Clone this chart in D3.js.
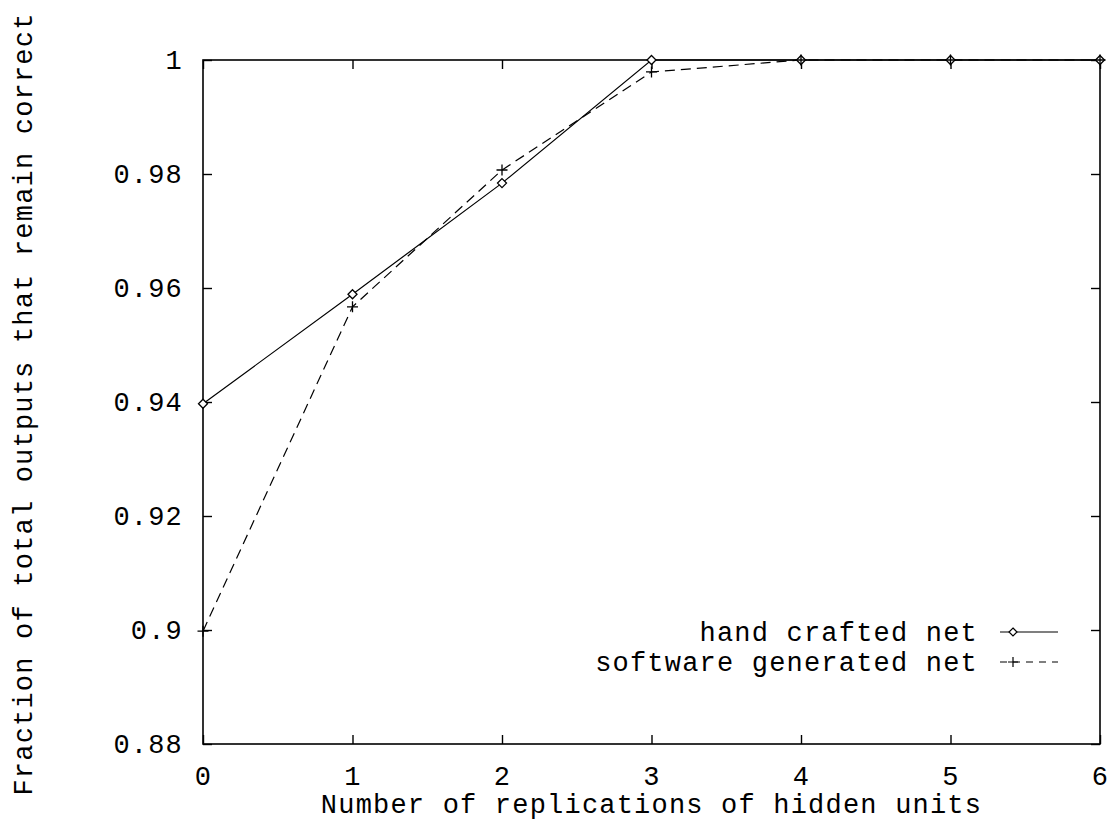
<!DOCTYPE html>
<html>
<head>
<meta charset="utf-8">
<script src="https://cdn.jsdelivr.net/npm/d3@7"></script>
<style>
  html, body { margin: 0; padding: 0; background: #fff; }
  svg { display: block; }
  text { font-family: "Liberation Mono", "DejaVu Sans Mono", monospace; fill: #000; }
</style>
</head>
<body>
<svg id="chart" width="1114" height="825"></svg>
<script>
// Replications of hidden units (x axis)
const replications = [0, 1, 2, 3, 4, 5, 6];
// Fraction of outputs that remain correct
const handCrafted = [0.9397, 0.9589, 0.9784, 1.0, 1.0, 1.0, 1.0];
const softwareGenerated = [0.8998, 0.9567, 0.9807, 0.9979, 1.0, 1.0, 1.0];
// Axis ticks
const xTicks = [0, 1, 2, 3, 4, 5, 6];
const yTicks = [0.88, 0.9, 0.92, 0.94, 0.96, 0.98, 1];
const seriesNames = ["hand crafted net", "software generated net"];

const svg = d3.select("#chart");
const m = { left: 203, right: 1100, top: 60, bottom: 744 };
const fontSize = 27;
const spacing = "1.2px";

const x = d3.scaleLinear().domain([0, 6]).range([m.left, m.right]);
const y = d3.scaleLinear().domain([0.88, 1]).range([m.bottom, m.top]);

const tickLen = 9;
const yFmt = d => d === 1 ? "1" : d3.format(".2f")(d).replace(/0$/, "");

// Frame
svg.append("rect")
  .attr("x", m.left).attr("y", m.top)
  .attr("width", m.right - m.left).attr("height", m.bottom - m.top)
  .attr("fill", "none").attr("stroke", "#000").attr("stroke-width", 1.6);

// Axes with inward ticks, mirrored on the opposite sides
const axisL = d3.axisLeft(y).tickValues(yTicks).tickSize(-tickLen).tickPadding(20).tickFormat(yFmt);
const axisR = d3.axisRight(y).tickValues(yTicks).tickSize(-tickLen).tickFormat("");
const axisB = d3.axisBottom(x).tickValues(xTicks).tickSize(-tickLen).tickPadding(22).tickFormat(d3.format("d"));
const axisT = d3.axisTop(x).tickValues(xTicks).tickSize(-tickLen).tickFormat("");

function styleAxis(g) {
  g.select(".domain").remove();
  g.selectAll(".tick line").attr("stroke", "#000").attr("stroke-width", 1.4);
  g.selectAll(".tick text")
    .style("font-size", fontSize + "px")
    .style("font-family", "Liberation Mono")
    .style("letter-spacing", spacing);
}
svg.append("g").attr("transform", `translate(${m.left},0)`).call(axisL).call(styleAxis);
svg.append("g").attr("transform", `translate(${m.right},0)`).call(axisR).call(styleAxis);
svg.append("g").attr("transform", `translate(0,${m.bottom})`).call(axisB).call(styleAxis);
svg.append("g").attr("transform", `translate(0,${m.top})`).call(axisT).call(styleAxis);

// Axis titles
svg.append("text")
  .attr("x", (m.left + m.right) / 2).attr("y", 813)
  .attr("text-anchor", "middle")
  .style("font-size", fontSize + "px")
  .style("letter-spacing", spacing)
  .text("Number of replications of hidden units");

svg.append("text")
  .attr("transform", `translate(32,${(m.top + m.bottom) / 2 + 2}) rotate(-90)`)
  .attr("text-anchor", "middle")
  .style("font-size", fontSize + "px")
  .style("letter-spacing", spacing)
  .text("Fraction of total outputs that remain correct");

const line = d3.line().x(d => x(d[0])).y(d => y(d[1]));
const handPts = replications.map((r, i) => [r, handCrafted[i]]);
const softPts = replications.map((r, i) => [r, softwareGenerated[i]]);

// Series lines
svg.append("path").datum(handPts).attr("d", line)
  .attr("fill", "none").attr("stroke", "#000").attr("stroke-width", 1.2);
svg.append("path").datum(softPts).attr("d", line)
  .attr("fill", "none").attr("stroke", "#000").attr("stroke-width", 1.2)
  .attr("stroke-dasharray", "10,6");

// Markers
const diamond = (cx, cy, s = 4.5) =>
  `M${cx},${cy - s}L${cx + s},${cy}L${cx},${cy + s}L${cx - s},${cy}Z`;
const plus = (cx, cy, s = 5.5) =>
  `M${cx - s},${cy}L${cx + s},${cy}M${cx},${cy - s}L${cx},${cy + s}`;

svg.append("g").selectAll("path").data(handPts).join("path")
  .attr("d", d => diamond(x(d[0]), y(d[1])))
  .attr("fill", "#fff").attr("stroke", "#000").attr("stroke-width", 1.3);
svg.append("g").selectAll("path").data(softPts).join("path")
  .attr("d", d => plus(x(d[0]), y(d[1])))
  .attr("fill", "none").attr("stroke", "#000").attr("stroke-width", 1.3);

// Legend
const legend = svg.append("g");
const legY = [632, 662];
const textRight = 978, sampleX0 = 1000, sampleX1 = 1058, markX = 1013;
seriesNames.forEach((name, i) => {
  legend.append("text")
    .attr("x", textRight).attr("y", legY[i]).attr("dy", "0.35em")
    .attr("text-anchor", "end")
    .style("font-size", fontSize + "px")
    .style("letter-spacing", spacing)
    .text(name);
  legend.append("line")
    .attr("x1", sampleX0).attr("x2", sampleX1)
    .attr("y1", legY[i]).attr("y2", legY[i])
    .attr("stroke", "#000").attr("stroke-width", 1.2)
    .attr("stroke-dasharray", i === 1 ? "7,6" : null);
  legend.append("path")
    .attr("d", i === 0 ? diamond(markX, legY[i], 4) : plus(markX, legY[i], 5))
    .attr("fill", i === 0 ? "#fff" : "none")
    .attr("stroke", "#000").attr("stroke-width", 1.2);
});
</script>
</body>
</html>
